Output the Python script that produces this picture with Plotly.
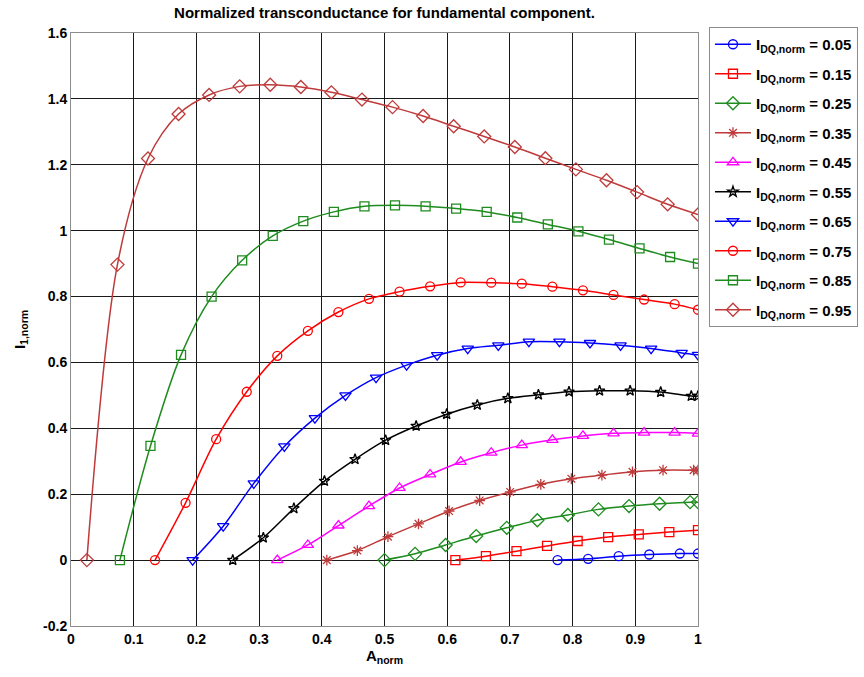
import numpy as np
import plotly.graph_objects as go

# Bias levels and plotting styles for each curve
bias_levels = [0.05, 0.15, 0.25, 0.35, 0.45, 0.55, 0.65, 0.75, 0.85, 0.95]
colors = ["#0000FF", "#FF0000", "#1E8C1E", "#BF3A3A", "#FF00FF",
          "#000000", "#0000FF", "#FF0000", "#1E8C1E", "#BF3A3A"]
symbols = ["circle-open", "square-open", "diamond-open", "asterisk-open",
           "triangle-up-open", "star-open", "triangle-down-open",
           "circle-open", "square-open", "diamond-open"]
sizes = [9, 9, 10, 9, 10, 8, 10, 9, 9, 10]

# First amplitude where each curve leaves zero, and the sample step in A_norm
start_amp = [0.776, 0.613, 0.500, 0.408, 0.329, 0.258, 0.194, 0.134, 0.078, 0.0253]
amp_step = 0.04875

# Normalized fundamental current at each sample
i1_005 = [0.0, 0.004, 0.012, 0.017, 0.020, 0.020]
i1_015 = [0.0, 0.012, 0.027, 0.043, 0.058, 0.070, 0.078, 0.085, 0.091]
i1_025 = [0.0, 0.019, 0.046, 0.073, 0.098, 0.121, 0.137, 0.154, 0.164,
          0.171, 0.176, 0.176]
i1_035 = [0.0, 0.029, 0.071, 0.110, 0.149, 0.181, 0.207, 0.230, 0.247,
          0.258, 0.268, 0.273, 0.273, 0.273]
i1_045 = [0.0, 0.046, 0.105, 0.164, 0.219, 0.260, 0.298, 0.326, 0.349,
          0.365, 0.377, 0.385, 0.387, 0.387, 0.384]
i1_055 = [0.0, 0.068, 0.157, 0.240, 0.306, 0.364, 0.407, 0.443, 0.471,
          0.491, 0.502, 0.511, 0.514, 0.514, 0.510, 0.498, 0.498]
i1_065 = [0.0, 0.103, 0.233, 0.345, 0.431, 0.500, 0.554, 0.592, 0.622,
          0.642, 0.652, 0.663, 0.663, 0.659, 0.652, 0.642, 0.629, 0.623]
i1_075 = [0.0, 0.174, 0.367, 0.511, 0.620, 0.696, 0.753, 0.793, 0.815,
          0.831, 0.843, 0.842, 0.839, 0.830, 0.819, 0.805, 0.791, 0.777, 0.760]
i1_085 = [0.0, 0.3465, 0.623, 0.800, 0.910, 0.984, 1.029, 1.057, 1.074,
          1.077, 1.074, 1.067, 1.057, 1.040, 1.019, 0.998, 0.973, 0.946,
          0.920, 0.900]
i1_095 = [0.0, 0.897, 1.219, 1.354, 1.412, 1.438, 1.443, 1.436, 1.420,
          1.398, 1.375, 1.348, 1.317, 1.286, 1.254, 1.220, 1.186, 1.153,
          1.117, 1.080, 1.049]
curves = [i1_005, i1_015, i1_025, i1_035, i1_045,
          i1_055, i1_065, i1_075, i1_085, i1_095]

x_tickvals = [0, 0.1, 0.2, 0.3, 0.4, 0.5, 0.6, 0.7, 0.8, 0.9, 1]
x_ticktext = ["0", "0.1", "0.2", "0.3", "0.4", "0.5", "0.6", "0.7", "0.8", "0.9", "1"]
y_tickvals = [-0.2, 0, 0.2, 0.4, 0.6, 0.8, 1.0, 1.2, 1.4, 1.6]
y_ticktext = ["-0.2", "0", "0.2", "0.4", "0.6", "0.8", "1", "1.2", "1.4", "1.6"]

FONT = "Liberation Sans, Arial, sans-serif"

fig = go.Figure()
for k, (idq, y) in enumerate(zip(bias_levels, curves)):
    x = list(np.arange(len(y) - 1) * amp_step + start_amp[k]) + [1.0]
    fig.add_trace(go.Scatter(
        x=x, y=y, mode="lines+markers",
        name=f"<b>I<sub>DQ,norm</sub> = {idq:.2f}</b>",
        legendgroup=f"g{k}",
        line=dict(color=colors[k], width=1.5, shape="spline", smoothing=0.9),
        marker=dict(symbol=symbols[k], size=sizes[k], color=colors[k],
                    line=dict(color=colors[k], width=1.3)),
    ))

axis_common = dict(
    showgrid=True, gridcolor="#1a1a1a", gridwidth=1,
    showline=True, linecolor="#8c8c8c", linewidth=1, mirror=True,
    zeroline=False, ticks="",
    tickfont=dict(family=FONT, size=14, color="black", weight="bold"),
)

fig.update_xaxes(range=[0, 1], tickvals=x_tickvals, ticktext=x_ticktext,
                 title=dict(text="<b>A<sub>norm</sub></b>", standoff=4,
                            font=dict(family=FONT, size=15, color="black")),
                 **axis_common)
fig.update_yaxes(range=[-0.2, 1.6], tickvals=y_tickvals, ticktext=y_ticktext,
                 title=dict(text="<b>I<sub>1,norm</sub></b>", standoff=13,
                            font=dict(family=FONT, size=15, color="black")),
                 **axis_common)

fig.update_layout(
    width=864, height=677,
    margin=dict(l=71, r=166, t=33, b=51, autoexpand=False),
    paper_bgcolor="white", plot_bgcolor="white",
    font=dict(family=FONT, size=14, color="black"),
    title=dict(text="<b>Normalized transconductance for fundamental component.</b>",
               x=0.5, xref="paper", xanchor="center",
               y=1 - 13 / 677, yref="container", yanchor="middle",
               font=dict(family=FONT, size=15, color="black")),
    legend=dict(x=1.0175, y=1.0101, xanchor="left", yanchor="top",
                bordercolor="#8c8c8c", borderwidth=1, bgcolor="white",
                font=dict(family=FONT, size=15, color="black"),
                itemwidth=36, tracegroupgap=7),
    showlegend=True,
)

fig.write_html("out.html")
